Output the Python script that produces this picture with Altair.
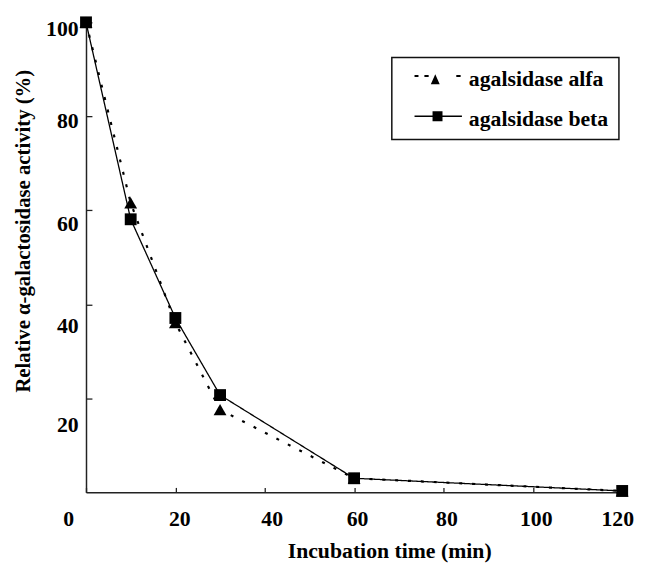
import altair as alt
import pandas as pd

# ---- data ----
times = [0, 10, 20, 30, 60, 120]
alfa = [100, 61.6, 36.1, 17.6, 3.0, 0.3]
beta = [100, 58.1, 37.1, 20.7, 3.0, 0.3]
series_names = ["agalsidase alfa", "agalsidase beta"]
x_ticks = [0, 20, 40, 60, 80, 100, 120]
y_ticks = [20, 40, 60, 80, 100]

A, B = series_names
rows = []
for t, v in zip(times, alfa):
    rows.append({"time": t, "activity": v, "series": A, "key": A})
for t, v in zip(times, beta):
    rows.append({"time": t, "activity": v, "series": B, "key": B})
df = pd.DataFrame(rows)

FONT = "Liberation Serif"

# legend symbols: line + marker drawn as one custom path (1 unit = 12 px)
path_a = ("M-2,-0.36H-1.667V-0.2H-2Z "
          "M-1.167,-0.36H-0.808V-0.2H-1.167Z "
          "M-0.25,-0.42L0.125,0.42L-0.625,0.42Z "
          "M1.525,-0.36H1.89V-0.2H1.525Z")
path_b = ("M-2,-0.28H2V-0.16H-2Z "
          "M-0.48,-0.64H0.36V0.2H-0.48Z")

x_scale = alt.Scale(domain=[0, 120], nice=False, zero=False)
y_scale = alt.Scale(domain=[0, 100], nice=False)


def cond(pairs, default):
    return {"condition": [{"test": f"datum.value == {k}", "value": v} for k, v in pairs],
            "value": default}


x_axis = alt.Axis(
    values=x_ticks, title="Incubation time (min)", grid=False, ticks=False, orient="bottom",
    labelPadding=27, labelBaseline="middle",
    labelFont=FONT, labelFontSize=22, labelFontWeight="bold", labelColor="black",
    titleFont=FONT, titleFontSize=22, titleFontWeight="bold", titleColor="black",
    titleX=307, titleY=58.5, titleAlign="center", titleBaseline="middle",
    labelFlush=False, labelOverlap=False,
    labelOffset=cond([(0, -18), (20, 4), (40, 7), (120, -5)], 3),
)
y_axis = alt.Axis(
    values=y_ticks, title="Relative α-galactosidase activity (%)", grid=False, ticks=False, orient="left",
    labelPadding=8, labelAlign="right", labelBaseline="middle",
    labelFont=FONT, labelFontSize=22, labelFontWeight="bold", labelColor="black",
    titleFont=FONT, titleFontSize=21, titleFontWeight="bold", titleColor="black",
    titleAngle=270, titleX=-63, titleY=211, titleAlign="center", titleBaseline="middle",
    labelFlush=False, labelOverlap=False,
    labelOffset=cond([(100, 6), (80, 4.5), (60, 13), (40, 22)], 27),
)
# tick-only axes pushed inside the plot
x_ticks_axis = alt.Axis(values=x_ticks, title=None, grid=False, labels=False, domain=False,
                        ticks=True, tickSize=5, offset=-5, orient="bottom")
y_ticks_axis = alt.Axis(values=y_ticks, title=None, grid=False, labels=False, domain=False,
                        ticks=True, tickSize=6, offset=-6, orient="left")

base = alt.Chart(df)

lines = base.mark_line(color="black").encode(
    x=alt.X("time:Q", scale=x_scale, axis=x_axis),
    y=alt.Y("activity:Q", scale=y_scale, axis=y_axis),
    detail="series:N",
    strokeDash=alt.condition(alt.datum.series == A, alt.value([3, 10]), alt.value([1, 0])),
    strokeWidth=alt.condition(alt.datum.series == A, alt.value(2.2), alt.value(1.3)),
)

points = base.mark_point(filled=True, color="black", opacity=1).encode(
    x=alt.X("time:Q", scale=x_scale, axis=x_ticks_axis),
    y=alt.Y("activity:Q", scale=y_scale, axis=y_ticks_axis),
    shape=alt.Shape("series:N", scale=alt.Scale(domain=series_names, range=["triangle-up", "square"]), legend=None),
    size=alt.condition(alt.datum.series == A, alt.value(169), alt.value(144)),
)

legend = alt.Legend(
    title=None, orient="none", legendX=309.7, legendY=35.7,
    padding=10, rowPadding=17, symbolOffset=25, labelOffset=19,
    symbolSize=576, symbolStrokeWidth=0, symbolFillColor="black", symbolOpacity=1,
    labelFont=FONT, labelFontSize=22, labelFontWeight="bold", labelColor="black",
    labelLimit=400,
    labelExpr="datum.label + '\u00a0\u00a0\u00a0\u00a0'",
    strokeColor="#111",
)

legend_layer = base.mark_point(filled=True, color="black", opacity=0).encode(
    x=alt.X("time:Q", scale=x_scale, axis=None),
    y=alt.Y("activity:Q", scale=y_scale, axis=None),
    shape=alt.Shape("key:N", scale=alt.Scale(domain=series_names, range=[path_a, path_b]), legend=legend),
    size=alt.value(1),
)

chart = alt.layer(lines, points, legend_layer).resolve_axis(x="independent", y="independent").resolve_scale(shape="independent").properties(
    width=543, height=476,
    padding={"left": 79, "top": 11, "right": 15, "bottom": 68},
    autosize=alt.AutoSizeParams(type="none"),
    background="white",
).configure_view(stroke=None).configure_axis(
    domainColor="#222", domainWidth=1.5, tickColor="#222", tickWidth=1.3,
).configure_legend(labelFont=FONT, labelFontWeight="bold", strokeWidth=1.5)

chart.save("out.html", embed_options={"renderer": "svg", "actions": False})
